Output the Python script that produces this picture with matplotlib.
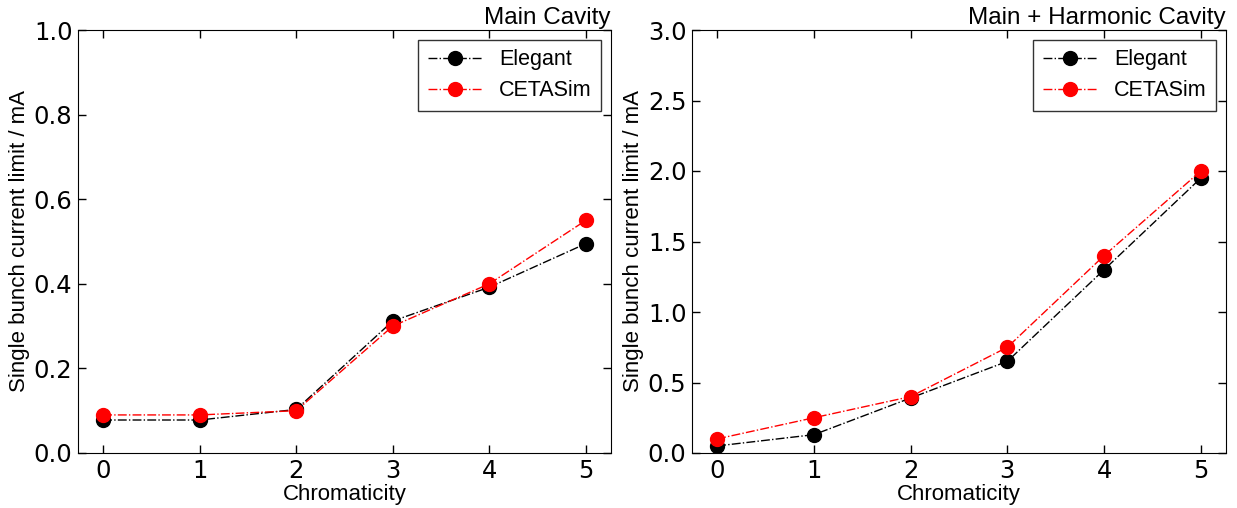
import matplotlib
matplotlib.use("Agg")
import matplotlib.pyplot as plt

plt.rcParams['font.family'] = ['Liberation Sans', 'DejaVu Sans']

chroma = [0, 1, 2, 3, 4, 5]
main_elegant = [0.078, 0.078, 0.103, 0.312, 0.392, 0.495]
main_cetasim = [0.090, 0.090, 0.100, 0.300, 0.400, 0.550]
harm_elegant = [0.05, 0.13, 0.39, 0.65, 1.30, 1.95]
harm_cetasim = [0.10, 0.25, 0.40, 0.75, 1.40, 2.00]

fig = plt.figure(figsize=(12.37, 5.08), dpi=100)
ax1 = fig.add_axes([78/1237, 1-453/508, 533/1237, 423/508])
ax2 = fig.add_axes([692/1237, 1-453/508, 534/1237, 423/508])

for ax, el, ce, title, ylim, yticks in [
    (ax1, main_elegant, main_cetasim, 'Main Cavity', (0, 1.0), [0.0, 0.2, 0.4, 0.6, 0.8, 1.0]),
    (ax2, harm_elegant, harm_cetasim, 'Main + Harmonic Cavity', (0, 3.0), [0.0, 0.5, 1.0, 1.5, 2.0, 2.5, 3.0]),
]:
    ax.plot(chroma, el, color='black', linestyle='-.', linewidth=1, marker='o', markersize=10, label='Elegant')
    ax.plot(chroma, ce, color='red', linestyle='-.', linewidth=1, marker='o', markersize=10, label='CETASim')
    ax.set_xlim(-0.26, 5.26)
    ax.set_ylim(*ylim)
    ax.set_yticks(yticks)
    ax.set_yticklabels([f'{v:.1f}' for v in yticks])
    ax.set_xticks(chroma)
    ax.tick_params(direction='in', top=True, right=True, length=6, width=1, labelsize=17.5,
                   pad=4, labelfontfamily='DejaVu Sans')
    ax.set_xlabel('Chromaticity', fontsize=16, labelpad=1)
    ax.set_ylabel('Single bunch current limit / mA', fontsize=16, labelpad=3)
    ax.set_title(title, loc='right', fontsize=17.5, pad=4)
    leg = ax.legend(loc='upper right', fontsize=15.5, frameon=True, fancybox=False,
                    edgecolor='black', numpoints=1, handlelength=2.5, borderpad=0.45,
                    borderaxespad=0.45, labelspacing=0.45)
    leg.get_frame().set_linewidth(1)

fig.savefig('out.png', dpi=100)
